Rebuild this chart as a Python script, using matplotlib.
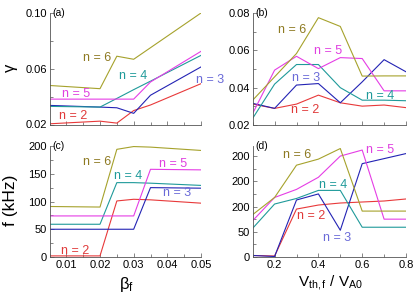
import numpy as np
import matplotlib
matplotlib.use("Agg")
import matplotlib.pyplot as plt
from matplotlib.ticker import MultipleLocator

plt.rcParams['font.family'] = ['Liberation Sans', 'DejaVu Sans']
plt.rcParams['mathtext.fontset'] = 'custom'
plt.rcParams['mathtext.rm'] = 'Liberation Sans'
plt.rcParams['mathtext.it'] = 'Liberation Sans'

# beta_f scans (panels a, c)
beta = [0.005, 0.02, 0.025, 0.03, 0.035, 0.05]
gam_beta = {
    2: [0.0205, 0.0224, 0.0210, 0.0300, 0.0340, 0.0493],
    3: [0.0337, 0.0325, 0.0320, 0.0280, 0.0410, 0.0613],
    4: [0.0330, 0.0325, 0.0387, 0.0450, 0.0511, 0.0696],
    5: [0.0382, 0.0382, 0.0382, 0.0382, 0.0505, 0.0725],
    6: [0.0480, 0.0457, 0.0690, 0.0668, 0.0751, 0.1000],
}
freq_beta = {
    2: [2, 2, 101, 104, 103, 97],
    3: [50, 50, 50, 50, 125, 124],
    4: [59, 59, 134, 134, 133, 129],
    5: [74, 74, 74, 74, 158, 157],
    6: [91, 90, 194, 199, 198, 192],
}

# V_th,f / V_A0 scans (panels b, d)
vth = [0.1, 0.2, 0.3, 0.4, 0.5, 0.6, 0.7, 0.8]
gam_v = {
    2: [0.0312, 0.0289, 0.0312, 0.0360, 0.0319, 0.0301, 0.0307, 0.0293],
    3: [0.0316, 0.0289, 0.0414, 0.0422, 0.0319, 0.0431, 0.0550, 0.0485],
    4: [0.0236, 0.0419, 0.0524, 0.0524, 0.0400, 0.0333, 0.0333, 0.0330],
    5: [0.0262, 0.0494, 0.0568, 0.0502, 0.0561, 0.0556, 0.0383, 0.0383],
    6: [0.0333, 0.0458, 0.0583, 0.0775, 0.0728, 0.0462, 0.0463, 0.0463],
}
freq_v = {
    2: [3, 2, 95, 103, 107, 109, 111, 115],
    3: [3, 1, 113, 125, 53, 185, 195, 205],
    4: [57, 105, 116, 132, 132, 59, 59, 59],
    5: [72, 118, 134, 158, 200, 212, 75, 75],
    6: [84, 118, 182, 194, 215, 91, 91, 91],
}
d_yticks = [0, 50, 100, 150, 200]
d_yticklabels = ['0', '50', '200', '200', '200']

line_col = {2: '#e8393a', 3: '#2323b4', 4: '#1f9a9a', 5: '#e53de5', 6: '#a6a22c'}
text_col = {2: '#e03a3a', 3: '#6a6ad8', 4: '#1f9a9a', 5: '#e040e0', 6: '#8e7a22'}

W, H = 415, 295
fig = plt.figure(figsize=(W / 100, H / 100), dpi=100)

def box(l, t, r, b):
    return [l / W, 1 - b / H, (r - l) / W, (b - t) / H]

ax_a = fig.add_axes(box(49.5, 13, 201, 124.5))
ax_b = fig.add_axes(box(252.7, 13, 406, 125))
ax_c = fig.add_axes(box(49.5, 146, 201, 257))
ax_d = fig.add_axes(box(252.7, 146, 406, 257))

for ax in (ax_a, ax_b, ax_c, ax_d):
    ax.spines['top'].set_visible(False)
    ax.spines['right'].set_visible(False)
    for s in ('left', 'bottom'):
        ax.spines[s].set_linewidth(0.6)
        ax.spines[s].set_color('#555555')
    ax.tick_params(which='both', direction='in', labelsize=8, width=0.5,
                   color='#555555', pad=2)
    ax.tick_params(which='major', length=3)
    ax.tick_params(which='minor', length=2)

for n in [2, 3, 4, 5, 6]:
    ax_a.plot(beta, gam_beta[n], color=line_col[n], lw=0.8)
    ax_c.plot(beta, freq_beta[n], color=line_col[n], lw=0.8)
    ax_b.plot(vth, gam_v[n], color=line_col[n], lw=0.8)
    ax_d.plot(vth, freq_v[n], color=line_col[n], lw=0.8)

for ax in (ax_a, ax_c):
    ax.set_xlim(0.005, 0.05)
    ax.set_xticks([0.01, 0.02, 0.03, 0.04, 0.05])
    ax.xaxis.set_minor_locator(MultipleLocator(0.005))
for ax in (ax_b, ax_d):
    ax.set_xlim(0.1, 0.8)
    ax.set_xticks([0.2, 0.4, 0.6, 0.8])
    ax.xaxis.set_minor_locator(MultipleLocator(0.1))

ax_a.set_ylim(0.02, 0.10)
ax_a.set_yticks([0.02, 0.06, 0.10])
ax_a.set_yticklabels(['0.02', '0.06', '0.10'])
ax_a.yaxis.set_minor_locator(MultipleLocator(0.02))
ax_a.set_xticklabels([])

ax_b.set_ylim(0.02, 0.08)
ax_b.set_yticks([0.02, 0.04, 0.06, 0.08])
ax_b.set_yticklabels(['0.02', '0.04', '0.06', '0.08'])
ax_b.yaxis.set_minor_locator(MultipleLocator(0.01))
ax_b.set_xticklabels([])

ax_c.set_ylim(0, 200)
ax_c.set_yticks([0, 50, 100, 150, 200])
ax_c.yaxis.set_minor_locator(MultipleLocator(25))
ax_c.set_xticklabels(['0.01', '0.02', '0.03', '0.04', '0.05'])

ax_d.set_ylim(0, 220)
ax_d.set_yticks(d_yticks)
ax_d.set_yticklabels(d_yticklabels)
ax_d.yaxis.set_minor_locator(MultipleLocator(25))
ax_d.set_xticklabels(['0.2', '0.4', '0.6', '0.8'])

# panel tags
for ax, tag in ((ax_a, '(a)'), (ax_b, '(b)'), (ax_c, '(c)'), (ax_d, '(d)')):
    ax.text(0.02, 1.0, tag, transform=ax.transAxes, fontsize=7.5,
            ha='left', va='center')

# axis labels
fig.text(12 / W, 1 - 68 / H, r'$\gamma$', fontsize=12, rotation=90,
         ha='center', va='center')
fig.text(11 / W, 1 - 200 / H, 'f (kHz)', fontsize=12.5, rotation=90,
         ha='center', va='center')
fig.text(126 / W, 1 - 284 / H, r'$\beta_\mathrm{f}$', fontsize=12,
         ha='center', va='center')
fig.text(330 / W, 1 - 283 / H, r'V$_\mathrm{th,f}$ / V$_\mathrm{A0}$',
         fontsize=11, ha='center', va='center')

# curve labels (pixel centres)
labels = [
    (97, 58, 6), (133, 76, 4), (210, 80, 3), (76, 94, 5), (73, 116, 2),
    (292, 30, 6), (328, 51, 5), (306, 78, 3), (380, 96, 4), (305, 110, 2),
    (97, 162, 6), (128, 176, 4), (173, 164, 5), (177, 193, 3), (75, 251, 2),
    (297, 155, 6), (380, 150, 5), (333, 185, 4), (311, 216, 2), (337, 238, 3),
]
for x, y, n in labels:
    fig.text(x / W, 1 - y / H, f'n = {n}', color=text_col[n], fontsize=9,
             ha='center', va='center')

fig.savefig('out.png', dpi=100)
